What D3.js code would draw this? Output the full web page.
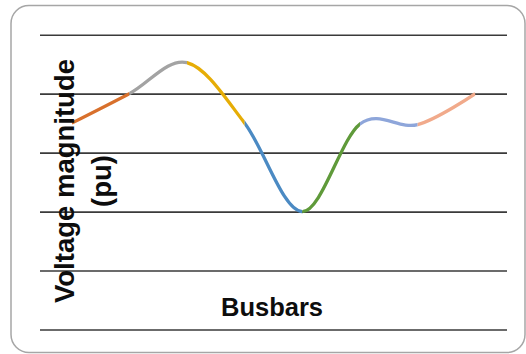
<!DOCTYPE html>
<html>
<head>
<meta charset="utf-8">
<script src="https://cdn.jsdelivr.net/npm/d3@7"></script>
<style>
  html, body { margin: 0; padding: 0; background: #fff; }
  svg { display: block; }
</style>
</head>
<body>
<svg id="chart" width="526" height="354"></svg>
<script>
// ---- data ----
const busbars = ["1", "2", "3", "4", "5", "6", "7", "8"];
const voltage = [0.970, 0.980, 0.9905, 0.970, 0.940, 0.9697, 0.9695, 0.980];
const gridValues = [0.90, 0.92, 0.94, 0.96, 0.98, 1.00];
const segmentColors = ["#D8702C", "#A3A3A3", "#E6AD06", "#4B8AC3", "#5F9A3A", "#8EA6DA", "#F1AA8B"];
const xTitle = "Busbars";
const yTitleLines = ["Voltage magnitude", "(pu)"];

// ---- layout ----
const svg = d3.select("#chart");
const plotLeft = 40, plotRight = 507, plotTop = 34.7, plotBottom = 329.5;

const x = d3.scalePoint().domain(busbars).range([plotLeft, plotRight]).padding(0.55);
const y = d3.scaleLinear().domain([0.90, 1.00]).range([plotBottom, plotTop]);

// outer rounded frame
svg.append("rect")
  .attr("x", 11).attr("y", 5.5)
  .attr("width", 514).attr("height", 347)
  .attr("rx", 18).attr("ry", 18)
  .attr("fill", "#fff")
  .attr("stroke", "#a6a6a6")
  .attr("stroke-width", 1.5);

// gridlines via axis
const yAxis = d3.axisLeft(y).tickValues(gridValues).tickSize(-(plotRight - plotLeft)).tickFormat("");
const gAxis = svg.append("g").attr("transform", `translate(${plotLeft},0)`).call(yAxis);
gAxis.select(".domain").remove();
gAxis.selectAll(".tick line").attr("stroke", "#3a3a3a").attr("stroke-width", 1.6);

// line data
const pts = busbars.map((b, i) => ({ b, v: voltage[i] }));
const line = d3.line()
  .x(d => x(d.b))
  .y(d => y(d.v))
  .curve(d3.curveCardinal.tension(0));

const defs = svg.append("defs");
segmentColors.forEach((c, i) => {
  const x0 = x(busbars[i]), x1 = x(busbars[i + 1]);
  defs.append("clipPath").attr("id", "seg" + i)
    .append("rect")
    .attr("x", x0).attr("y", 0)
    .attr("width", x1 - x0).attr("height", 354);
  svg.append("path")
    .datum(pts)
    .attr("d", line)
    .attr("fill", "none")
    .attr("stroke", c)
    .attr("stroke-width", 3.3)
    .attr("clip-path", `url(#seg${i})`);
});

// titles
svg.append("text")
  .attr("x", 272).attr("y", 316)
  .attr("text-anchor", "middle")
  .attr("font-family", "Liberation Sans, Arial, sans-serif")
  .attr("font-weight", "bold")
  .attr("font-size", 25.5)
  .attr("fill", "#0d0d0d")
  .text(xTitle);

const yt = svg.append("text")
  .attr("transform", "translate(74,181) rotate(-90)")
  .attr("text-anchor", "middle")
  .attr("font-family", "Liberation Sans, Arial, sans-serif")
  .attr("font-weight", "bold")
  .attr("font-size", 27.5)
  .attr("fill", "#0d0d0d");
yTitleLines.forEach((t, i) => {
  yt.append("tspan").attr("x", 0).attr("y", i * 37).text(t);
});
</script>
</body>
</html>
